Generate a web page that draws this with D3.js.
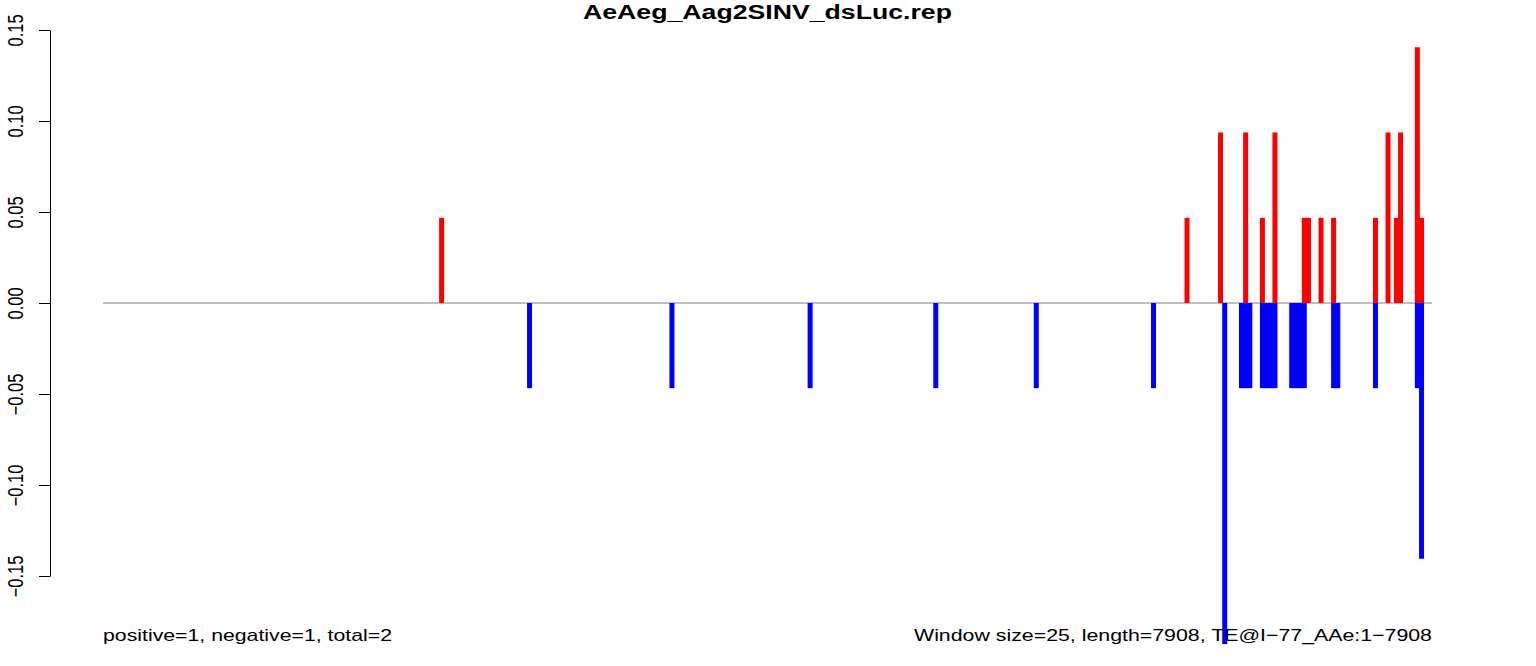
<!DOCTYPE html>
<html>
<head>
<meta charset="utf-8">
<script src="https://cdn.jsdelivr.net/npm/d3@7"></script>
<style>
  html, body { margin: 0; padding: 0; background: #fff; }
  svg { display: block; font-family: "Liberation Sans", Arial, Helvetica, sans-serif; }
</style>
</head>
<body>
<svg id="chart" width="1536" height="666"></svg>
<script>
// ---- data (window index along the 7908 nt sequence, window size 25) ----
const title = "AeAeg_Aag2SINV_dsLuc.rep";
const leftNote = "positive=1, negative=1, total=2";
const rightNote = "Window size=25, length=7908, TE@I\u221277_AAe:1\u22127908";
const yTicks = [-0.15, -0.10, -0.05, 0.00, 0.05, 0.10, 0.15];

const posWindows = [80, 258, 266, 272, 276, 279, 286, 287, 290, 293, 303, 306, 308, 309, 313, 314];
const posValues  = [0.0468, 0.0468, 0.0937, 0.0937, 0.0468, 0.0937, 0.0468, 0.0468, 0.0468, 0.0468, 0.0468, 0.0937, 0.0468, 0.0937, 0.1405, 0.0468];

const negWindows = [101, 135, 168, 198, 222, 250, 267, 271, 272, 273, 276, 277, 278, 279, 283, 284, 285, 286, 293, 294, 303, 313, 314];
const negValues  = [-0.0468, -0.0468, -0.0468, -0.0468, -0.0468, -0.0468, -0.1874, -0.0468, -0.0468, -0.0468, -0.0468, -0.0468, -0.0468, -0.0468, -0.0468, -0.0468, -0.0468, -0.0468, -0.0468, -0.0468, -0.0468, -0.0468, -0.1405];

// ---- layout ----
const svg = d3.select("#chart");
const plotLeft = 103, plotRight = 1432;
const x = d3.scaleLinear().domain([-0.86, 316.5]).range([plotLeft, plotRight]);
const y = d3.scaleLinear().domain([-0.15, 0.15]).range([576, 30]);
const barW = 5;

// title
svg.append("text")
  .attr("x", 767.5).attr("y", 19)
  .attr("text-anchor", "middle")
  .attr("font-weight", "bold")
  .attr("font-size", 20)
  .attr("textLength", 369)
  .attr("lengthAdjust", "spacingAndGlyphs")
  .attr("fill", "#000")
  .text(title);

// y axis
const axisX = 50;
const yAxis = d3.axisLeft(y).tickValues(yTicks).tickFormat(d => d3.format(".2f")(d).replace("-", "\u2212"))
  .tickSize(11).tickSizeOuter(0);
const gAxis = svg.append("g").attr("transform", `translate(${axisX},0)`).call(yAxis);
gAxis.select(".domain").attr("stroke", "#000").attr("stroke-width", 1);
gAxis.selectAll(".tick line").attr("stroke", "#000");
gAxis.selectAll(".tick text")
  .attr("font-size", 16.5)
  .attr("font-family", "Liberation Sans, Arial, sans-serif")
  .attr("fill", "#000")
  .attr("text-anchor", "middle")
  .attr("x", 0).attr("y", 0).attr("dy", "0.36em")
  .attr("transform", "translate(-35,0) scale(1.3,1) rotate(-90)");

// baseline
svg.append("line")
  .attr("x1", plotLeft).attr("x2", plotRight)
  .attr("y1", y(0)).attr("y2", y(0))
  .attr("stroke", "#808080").attr("stroke-width", 1);

// bars
svg.append("g").selectAll("rect")
  .data(posWindows.map((w, i) => ({ w, v: posValues[i] })))
  .join("rect")
  .attr("x", d => x(d.w) - barW / 2)
  .attr("width", barW)
  .attr("y", d => y(d.v))
  .attr("height", d => y(0) - y(d.v))
  .attr("fill", "#ff0000");

svg.append("g").selectAll("rect")
  .data(negWindows.map((w, i) => ({ w, v: negValues[i] })))
  .join("rect")
  .attr("x", d => x(d.w) - barW / 2)
  .attr("width", barW)
  .attr("y", y(0))
  .attr("height", d => y(d.v) - y(0))
  .attr("fill", "#0000ff");

// footnotes
svg.append("text")
  .attr("x", plotLeft).attr("y", 641)
  .attr("font-size", 17).attr("fill", "#000")
  .attr("textLength", 289).attr("lengthAdjust", "spacingAndGlyphs")
  .text(leftNote);
svg.append("text")
  .attr("x", 914).attr("y", 641)
  .attr("font-size", 17).attr("fill", "#000")
  .attr("textLength", 518).attr("lengthAdjust", "spacingAndGlyphs")
  .text(rightNote);
</script>
</body>
</html>
